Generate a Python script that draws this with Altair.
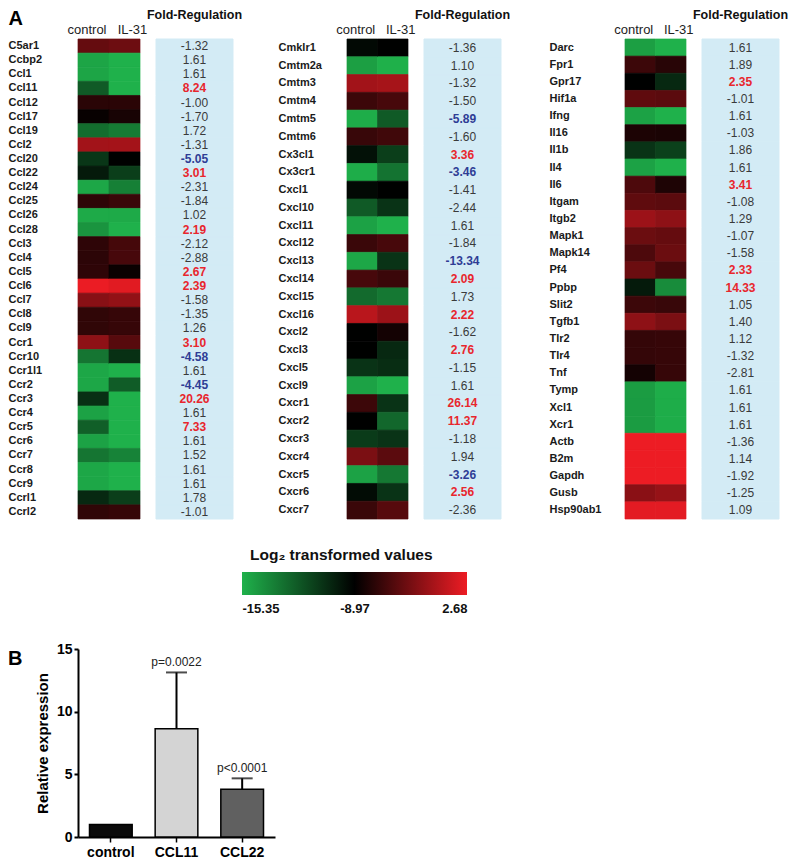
import altair as alt
import pandas as pd

FONT = "Liberation Sans"
GREEN, BLACK, RED = "#1fb14b", "#000000", "#ed1c24"
BOX_FILL = "#d3ebf5"

# ---------------- data: heatmap (log2 transformed values) ----------------
legend_values = [-15.35, -8.97, 2.68]
heat_columns = ["control", "IL-31"]

genes_1 = ["C5ar1", "Ccbp2", "Ccl1", "Ccl11", "Ccl12", "Ccl17", "Ccl19", "Ccl2", "Ccl20",
           "Ccl22", "Ccl24", "Ccl25", "Ccl26", "Ccl28", "Ccl3", "Ccl4", "Ccl5", "Ccl6",
           "Ccl7", "Ccl8", "Ccl9", "Ccr1", "Ccr10", "Ccr1l1", "Ccr2", "Ccr3", "Ccr4",
           "Ccr5", "Ccr6", "Ccr7", "Ccr8", "Ccr9", "Ccrl1", "Ccrl2"]
ctrl_1 = [-4.0, -14.9, -14.9, -12.2, -6.9, -8.6, -12.9, -1.0, -10.9, -9.9, -15.0, -6.7,
          -15.1, -14.3, -6.7, -6.8, -6.7, 2.6, -2.3, -6.6, -6.6, -2.0, -13.2, -15.0, -15.0,
          -10.7, -14.8, -12.4, -14.8, -13.2, -15.0, -15.0, -10.4, -6.6]
il31_1 = [-3.6, -15.35, -15.35, -15.35, -6.9, -7.8, -13.4, -0.9, -9.0, -11.2, -13.6, -6.1,
          -15.1, -15.35, -5.6, -5.5, -8.5, 2.1, -1.8, -6.3, -6.3, -4.7, -10.7, -15.35, -12.3,
          -15.35, -15.35, -15.35, -15.35, -13.7, -15.35, -15.35, -11.2, -6.3]
fold_1 = [-1.32, 1.61, 1.61, 8.24, -1.00, -1.70, 1.72, -1.31, -5.05, 3.01, -2.31, -1.84,
          1.02, 2.19, -2.12, -2.88, 2.67, 2.39, -1.58, -1.35, 1.26, 3.10, -4.58, 1.61, -4.45,
          20.26, 1.61, 7.33, 1.61, 1.52, 1.61, 1.61, 1.78, -1.01]
sig_1 = ["ns", "ns", "ns", "up", "ns", "ns", "ns", "ns", "down", "up", "ns", "ns",
         "ns", "up", "ns", "ns", "up", "up", "ns", "ns", "ns", "up", "down", "ns", "down",
         "up", "ns", "up", "ns", "ns", "ns", "ns", "ns", "ns"]

genes_2 = ["Cmklr1", "Cmtm2a", "Cmtm3", "Cmtm4", "Cmtm5", "Cmtm6", "Cx3cl1", "Cx3cr1",
           "Cxcl1", "Cxcl10", "Cxcl11", "Cxcl12", "Cxcl13", "Cxcl14", "Cxcl15", "Cxcl16",
           "Cxcl2", "Cxcl3", "Cxcl5", "Cxcl9", "Cxcr1", "Cxcr2", "Cxcr3", "Cxcr4", "Cxcr5",
           "Cxcr6", "Cxcr7"]
ctrl_2 = [-9.3, -14.7, -1.0, -6.0, -15.2, -6.2, -9.6, -15.2, -9.3, -12.2, -14.8, -6.1,
          -15.0, -5.5, -12.8, 0.1, -9.0, -9.0, -10.8, -14.8, -6.0, -9.0, -11.1, -2.9, -14.8,
          -9.4, -6.1]
il31_2 = [-9.0, -15.3, -0.8, -5.5, -12.2, -5.8, -11.2, -13.1, -9.0, -10.8, -15.35, -5.5,
          -10.8, -6.1, -13.3, -1.3, -8.0, -10.4, -10.6, -15.35, -10.8, -12.7, -10.8, -4.5,
          -13.3, -10.8, -4.7]
fold_2 = [-1.36, 1.10, -1.32, -1.50, -5.89, -1.60, 3.36, -3.46, -1.41, -2.44, 1.61, -1.84,
          -13.34, 2.09, 1.73, 2.22, -1.62, 2.76, -1.15, 1.61, 26.14, 11.37, -1.18, 1.94,
          -3.26, 2.56, -2.36]
sig_2 = ["ns", "ns", "ns", "ns", "down", "ns", "up", "down", "ns", "ns", "ns", "ns",
         "down", "up", "ns", "up", "ns", "up", "ns", "ns", "up", "up", "ns", "ns",
         "down", "up", "ns"]

genes_3 = ["Darc", "Fpr1", "Gpr17", "Hif1a", "Ifng", "Il16", "Il1b", "Il4", "Il6", "Itgam",
           "Itgb2", "Mapk1", "Mapk14", "Pf4", "Ppbp", "Slit2", "Tgfb1", "Tlr2", "Tlr4", "Tnf",
           "Tymp", "Xcl1", "Xcr1", "Actb", "B2m", "Gapdh", "Gusb", "Hsp90ab1"]
ctrl_3 = [-14.7, -6.0, -9.0, -4.3, -14.8, -7.6, -10.8, -14.8, -5.2, -4.3, -1.3, -3.7,
          -5.2, -3.7, -9.9, -6.0, -2.0, -6.4, -6.4, -8.0, -14.6, -14.6, -14.6, 2.68, 2.68,
          2.68, -2.2, 2.2]
il31_3 = [-15.35, -7.0, -10.4, -4.5, -15.35, -7.7, -11.3, -15.35, -7.5, -4.5, -2.0, -4.0,
          -3.7, -5.5, -14.0, -6.2, -2.9, -6.3, -6.3, -6.3, -15.2, -15.2, -15.2, 2.68, 2.68,
          2.68, -1.6, 2.2]
fold_3 = [1.61, 1.89, 2.35, -1.01, 1.61, -1.03, 1.86, 1.61, 3.41, -1.08, 1.29, -1.07,
          -1.58, 2.33, 14.33, 1.05, 1.40, 1.12, -1.32, -2.81, 1.61, 1.61, 1.61, -1.36, 1.14,
          -1.92, -1.25, 1.09]
sig_3 = ["ns", "ns", "up", "ns", "ns", "ns", "ns", "ns", "up", "ns", "ns", "ns",
         "ns", "up", "up", "ns", "ns", "ns", "ns", "ns", "ns", "ns", "ns", "ns", "ns",
         "ns", "ns", "ns"]

# ---------------- data: panel B ----------------
bar_groups = ["control", "CCL11", "CCL22"]
bar_means = [1.0, 8.63, 3.81]
bar_upper = [None, 13.13, 4.68]
bar_pvalues = ["", "p=0.0022", "p<0.0001"]

# ---------------- chart ----------------
cscale = alt.Scale(domain=legend_values, range=[GREEN, BLACK, RED], interpolate="rgb", clamp=True)


def heat_panel(genes, ctrl, il31, fold, sig, heat_w, label_pad, panel_label=None):
    n = len(genes)
    heat_df = pd.DataFrame({
        "gene": list(genes) * 2,
        "group": ["control"] * n + ["IL-31"] * n,
        "value": list(ctrl) + list(il31),
    })
    ykw = dict(labelAlign="left", labelPadding=label_pad, ticks=False, domain=False,
               labelFontSize=11, labelFontWeight="bold", labelColor="#1a1a1a", labelFont=FONT)
    if panel_label:
        ykw.update(title=panel_label, titleAngle=0, titleAlign="left", titleBaseline="alphabetic",
                   titleX=-label_pad, titleY=-15, titleFontSize=20, titleFontWeight="bold",
                   titleFont=FONT, titleColor="#000000")
    else:
        ykw.update(title=None)
    yscale = alt.Scale(domain=list(genes), paddingInner=0, paddingOuter=0)
    heat = alt.Chart(heat_df).mark_rect(strokeWidth=0.7).encode(
        x=alt.X("group:N", sort=heat_columns,
                scale=alt.Scale(domain=heat_columns, paddingInner=0, paddingOuter=0),
                axis=alt.Axis(orient="top", title=None, labelAngle=0, ticks=False, domain=False,
                              labelFontSize=13, labelPadding=3, labelColor="#222222",
                              labelFont=FONT,
                              labelOffset={"condition": {"test": "datum.value == 'control'",
                                                         "value": -6.5},
                                           "value": 8})),
        y=alt.Y("gene:N", scale=yscale, axis=alt.Axis(**ykw)),
        color=alt.Color("value:Q", scale=cscale, legend=None),
        stroke=alt.Stroke("value:Q", scale=cscale, legend=None),
    ).properties(width=heat_w, height=480)

    fold_df = pd.DataFrame({"gene": genes, "label": [f"{v:.2f}" for v in fold], "sig": sig})
    fbase = alt.Chart(fold_df).encode(
        y=alt.Y("gene:N", scale=alt.Scale(domain=list(genes), paddingInner=0, paddingOuter=0),
                axis=None))
    bg = fbase.mark_rect(fill=BOX_FILL, stroke=BOX_FILL, strokeWidth=1)
    t_ns = fbase.mark_text(fontSize=12, color="#3a3a3a", font=FONT).encode(
        text="label:N").transform_filter(alt.datum.sig == "ns")
    t_up = fbase.mark_text(fontSize=12, color="#e8262d", font=FONT, fontWeight="bold").encode(
        text="label:N").transform_filter(alt.datum.sig == "up")
    t_dn = fbase.mark_text(fontSize=12, color="#2f3d95", font=FONT, fontWeight="bold").encode(
        text="label:N").transform_filter(alt.datum.sig == "down")
    fold_chart = alt.layer(bg, t_ns, t_up, t_dn).properties(
        width=77, height=480,
        title=alt.TitleParams("Fold-Regulation", fontSize=12.5, fontWeight="bold", font=FONT,
                              baseline="alphabetic", offset=7, anchor="middle", color="#111111"))
    return alt.hconcat(heat, fold_chart, spacing=16, bounds="flush")


p1 = heat_panel(genes_1, ctrl_1, il31_1, fold_1, sig_1, 62, 70, "A")
p2 = heat_panel(genes_2, ctrl_2, il31_2, fold_2, sig_2, 61, 69)
p3 = heat_panel(genes_3, ctrl_3, il31_3, fold_3, sig_3, 61, 76)
top = alt.hconcat(alt.hconcat(p1, p2, spacing=35), p3, spacing=38)

# colour bar legend
leg_df = pd.DataFrame({"lo": [min(legend_values)], "hi": [max(legend_values)]})
gradient = alt.LinearGradient(
    gradient="linear",
    stops=[alt.GradientStop(color=GREEN, offset=0), alt.GradientStop(color=BLACK, offset=0.5),
           alt.GradientStop(color=RED, offset=1)],
    x1=0, x2=1, y1=0, y2=0)
legend = alt.Chart(leg_df).mark_rect(color=gradient).encode(
    x=alt.X("lo:Q",
            scale=alt.Scale(domain=legend_values, range=[164, 276.5, 389], nice=False, zero=False),
            axis=alt.Axis(values=legend_values, labelExpr="replace(format(datum.value, '.2f'), '\u2212', '-')",
                          labelFlush=True, ticks=False, domain=False, grid=False, title=None,
                          labelFontSize=13, labelFontWeight="bold", labelPadding=7,
                          labelColor="#111111", labelFont=FONT)),
    x2="hi:Q",
).properties(width=532, height=23,
             title=alt.TitleParams("Log\u2082 transformed values", anchor="start", frame="group",
                                   dx=172, fontSize=15.5, fontWeight="bold", font=FONT, offset=-3,
                                   baseline="alphabetic", color="#111111"))

# panel B bar chart
bar_df = pd.DataFrame({"group": bar_groups, "mean": bar_means, "upper": bar_upper,
                       "p": bar_pvalues})
xb = alt.X("group:N", sort=bar_groups, scale=alt.Scale(paddingInner=0.35),
           axis=alt.Axis(title=None, labelAngle=0, labelFontSize=14, labelFontWeight="bold",
                         labelColor="#000000", domainWidth=2, domainColor="#000000", tickSize=5,
                         tickWidth=1.5, tickColor="#000000", labelPadding=3, labelFont=FONT))
yscale_b = alt.Scale(domain=[0, 15], nice=False)
base_b = alt.Chart(bar_df).encode(x=xb)
bars = base_b.mark_bar(stroke="#000000", strokeWidth=1.5).encode(
    y=alt.Y("mean:Q", scale=yscale_b,
            axis=alt.Axis(title="Relative expression", values=[0, 5, 10, 15], grid=False,
                          tickSize=4, tickWidth=2, tickColor="#000000", domainWidth=2,
                          domainColor="#000000", labelFontSize=14, labelFontWeight="bold",
                          labelColor="#000000", titleFontSize=15, titleFontWeight="bold",
                          titleColor="#000000", titlePadding=6, labelPadding=2,
                          labelFont=FONT, titleFont=FONT)),
    color=alt.Color("group:N", scale=alt.Scale(domain=bar_groups,
                                               range=["#0a0a0a", "#d4d4d4", "#606060"]),
                    legend=None),
)
err = base_b.mark_rule(color="#000000", strokeWidth=2).encode(
    y="mean:Q", y2="upper:Q").transform_filter("isValid(datum.upper)")
cap = base_b.mark_tick(color="#000000", thickness=2, size=21).encode(
    y="upper:Q").transform_filter("isValid(datum.upper)")
ptxt = base_b.mark_text(baseline="bottom", dy=-3, fontSize=12, font=FONT, color="#222222").encode(
    y="upper:Q", text="p:N").transform_filter("isValid(datum.upper)")
bar_chart = alt.layer(bars, err, cap, ptxt).properties(
    width=197, height=188,
    title=alt.TitleParams("B", anchor="start", frame="group", dx=-70, offset=-43,
                          baseline="alphabetic", fontSize=20, fontWeight="bold", font=FONT,
                          color="#000000"))

chart = alt.vconcat(top, legend, bar_chart, spacing=27).resolve_scale(
    color="independent").properties(padding=0).configure(font=FONT).configure_view(
    stroke=None, strokeWidth=0)

chart.save("out.html", embed_options={"renderer": "svg", "actions": False})
